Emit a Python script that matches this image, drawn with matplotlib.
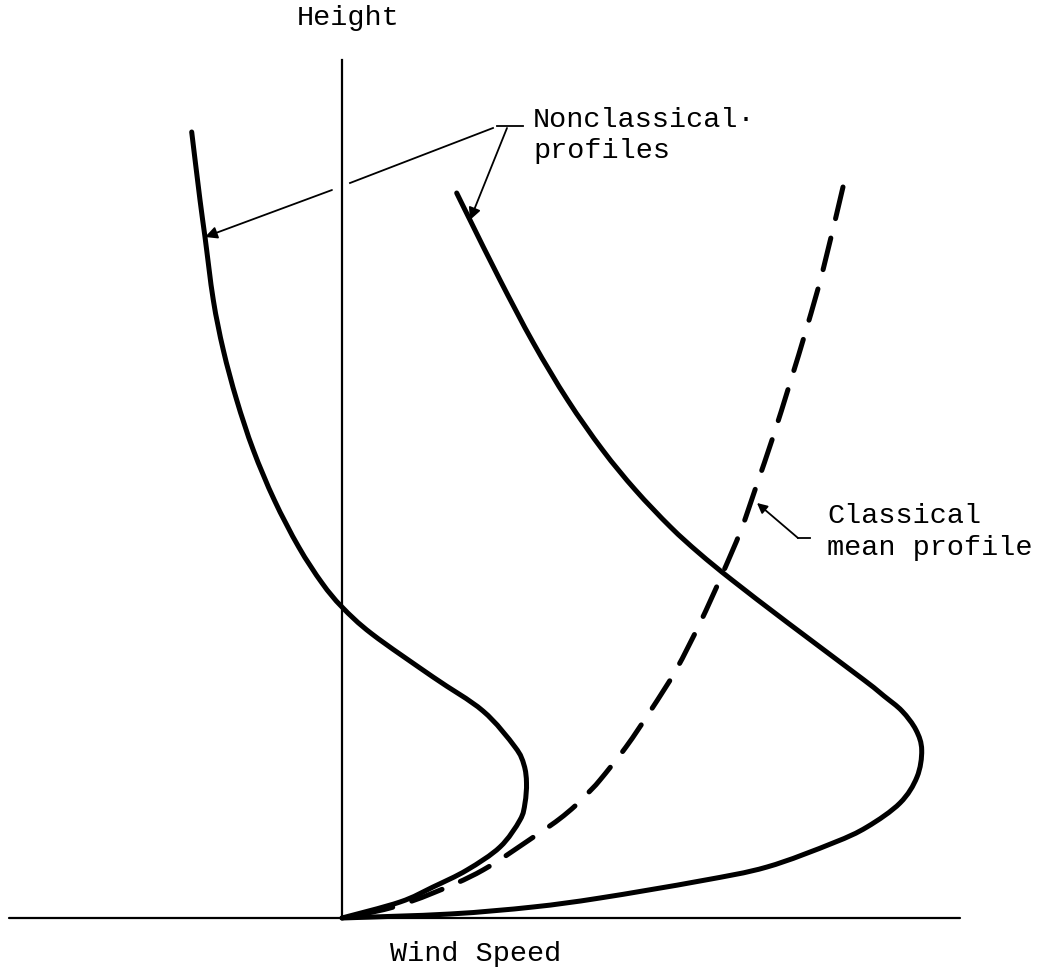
import matplotlib
matplotlib.use("Agg")
import matplotlib.pyplot as plt
import numpy as np
from matplotlib.path import Path
from matplotlib.patches import PathPatch

# curves: (wind speed, height), origin at the axis corner
left_speed = [-150.3, -142, -137, -128.7, -118.7, -105.3, -88.7, -67.7, -43.3,
              -20, 0, 30, 91, 141, 173, 182, 184.5, 183, 178, 158, 125, 91,
              58, 0]
left_height = [786, 718, 681, 618, 568, 518, 468, 418, 371, 335, 311, 284,
               241, 207, 171, 153, 135, 115, 98, 71, 48, 31, 16, 0]

mid_speed = [114.7, 128, 158, 191.4, 225.6, 260.6, 293.4, 328.5, 357, 390,
             446, 522, 542, 560, 574, 579.7, 575, 558, 525, 491, 425, 358,
             258, 191, 108, 0]
mid_height = [725, 698, 638, 575, 518, 468, 428, 391, 365, 338, 295, 238,
              222, 207, 188, 168, 141, 115, 91, 75, 51, 37, 20, 11, 4, 0]

classic_speed = [501, 481, 465, 448, 431, 414, 399, 379, 358, 334, 309, 284,
                 258, 246, 233, 217.4, 197.4, 141, 91, 48, 0]
classic_height = [731, 648, 591, 535, 481, 431, 388, 341, 295, 248, 208, 171,
                  138, 125, 112, 99, 85, 48, 25, 10, 0]


def smooth_path(xs, ys):
    # bezier through the read points (catmull-rom handles), drawn by matplotlib
    p = np.column_stack([xs, ys]).astype(float)
    p = np.vstack([p[0], p, p[-1]])
    verts = [p[1]]
    codes = [Path.MOVETO]
    for i in range(1, len(p) - 2):
        c1 = p[i] + (p[i + 1] - p[i - 1]) / 6
        c2 = p[i + 1] - (p[i + 2] - p[i]) / 6
        verts += [c1, c2, p[i + 1]]
        codes += [Path.CURVE4] * 3
    return Path(verts, codes)


fig = plt.figure(figsize=(10.5, 9.8), dpi=100)
ax = fig.add_axes([0, 0, 1, 1])
ax.set_xlim(-342, 708)
ax.set_ylim(-62, 918)
ax.axis('off')

# axes of the sketch
ax.plot([-333, 618], [0, 0], color='black', lw=1.6, solid_capstyle='round')
ax.plot([0, 0], [0, 858], color='black', lw=1.6)

# profiles
for xs, ys in [(left_speed, left_height), (mid_speed, mid_height)]:
    ax.add_patch(PathPatch(smooth_path(xs, ys), fill=False, edgecolor='black',
                           lw=3.6, capstyle='round', joinstyle='round'))
ax.add_patch(PathPatch(smooth_path(classic_speed, classic_height), fill=False,
                       edgecolor='black', lw=3.6, linestyle=(0, (6.5, 4)),
                       capstyle='round'))

font = dict(family=['Liberation Mono', 'DejaVu Sans Mono'], fontsize=20.5)
ax.text(6, 893, 'Height', ha='center', va='baseline', **font)
ax.text(134, -43, 'Wind Speed', ha='center', va='baseline', **font)
ax.text(191, 791, 'Nonclassical\u00b7', ha='left', va='baseline', **font)
ax.text(191, 760, 'profiles', ha='left', va='baseline', **font)
ax.text(485, 395, 'Classical', ha='left', va='baseline', **font)
ax.text(485, 363, 'mean profile', ha='left', va='baseline', **font)

# leader lines
ax.plot([155, 181], [792, 792], color='black', lw=1.3)
ax.plot([151, 8], [790, 735], color='black', lw=1.3)
ax.annotate('', xy=(-137, 681), xytext=(-10, 728),
            arrowprops=dict(arrowstyle='-|>', color='black', lw=1.3,
                            mutation_scale=18, shrinkA=0, shrinkB=0))
ax.annotate('', xy=(128, 698), xytext=(165, 790),
            arrowprops=dict(arrowstyle='-|>', color='black', lw=1.3,
                            mutation_scale=18, shrinkA=0, shrinkB=0))
ax.plot([468, 456], [380, 380], color='black', lw=1.3)
ax.annotate('', xy=(415, 415), xytext=(456, 380),
            arrowprops=dict(arrowstyle='-|>', color='black', lw=1.3,
                            mutation_scale=15, shrinkA=0, shrinkB=0))

fig.savefig('out.png', dpi=100)
